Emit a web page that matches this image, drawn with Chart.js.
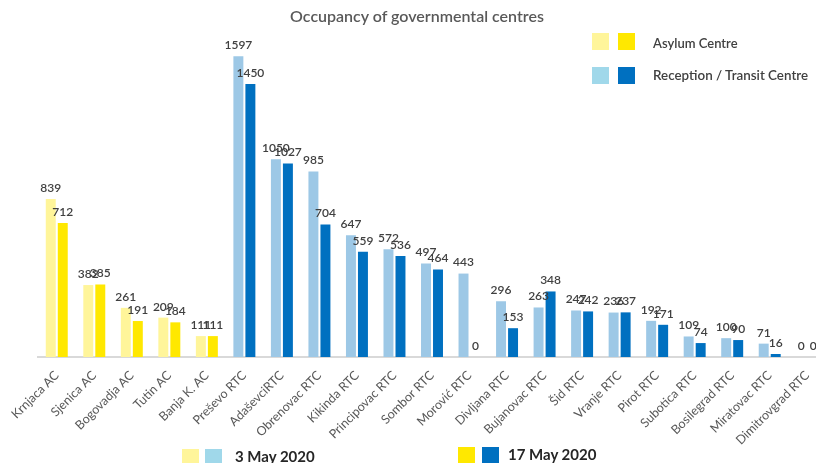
<!DOCTYPE html>
<html>
<head>
<meta charset="utf-8">
<script src="https://cdn.jsdelivr.net/npm/chart.js@4"></script>
<style>
  html, body { margin: 0; padding: 0; background: #fff; overflow: hidden; width: 816px; height: 463px; }
  #wrap { position: relative; width: 830px; height: 463px; }
  canvas { position: absolute; left: 0; top: 0; }
  .lg { position: absolute; font-family: Lato, sans-serif; color: #404040; white-space: nowrap; }
  .sw { position: absolute; width: 17px; height: 17px; }
</style>
</head>
<body>
<div id="wrap">
  <canvas id="c" width="830" height="463"></canvas>
  <div class="lg" style="left:217px;width:400px;text-align:center;top:6px;font-size:16px;font-weight:600;color:#595959;">Occupancy of governmental centres</div>
  <!-- top-right legend -->
  <div class="sw" style="left:592px;top:33px;background:#FFF59A"></div>
  <div class="sw" style="left:618px;top:33px;background:#FFE800"></div>
  <div class="lg" style="left:653px;top:35px;font-size:13px;font-weight:600;">Asylum Centre</div>
  <div class="sw" style="left:592px;top:67px;background:#A0D8EA"></div>
  <div class="sw" style="left:618px;top:67px;background:#0070C0"></div>
  <div class="lg" style="left:653px;top:67px;font-size:13.4px;font-weight:600;">Reception / Transit Centre</div>
  <!-- bottom legend -->
  <div class="sw" style="left:182px;top:449px;background:#FFF59A"></div>
  <div class="sw" style="left:205px;top:449px;background:#A0D8EA"></div>
  <div class="lg" style="left:235px;top:447px;font-size:15px;font-weight:700;color:#262626;">3 May 2020</div>
  <div class="sw" style="left:458px;top:447px;background:#FFE800"></div>
  <div class="sw" style="left:482px;top:447px;background:#0070C0"></div>
  <div class="lg" style="left:508px;top:445px;font-size:15px;font-weight:700;color:#262626;">17 May 2020</div>
</div>
<script>
const categories = ["Krnjaca AC","Sjenica AC","Bogovadja AC","Tutin AC","Banja K. AC","Preševo RTC","AdaševciRTC","Obrenovac RTC","Kikinda RTC","Principovac RTC","Sombor RTC","Morović RTC","Divljana RTC","Bujanovac RTC","Šid RTC","Vranje RTC","Pirot RTC","Subotica RTC","Bosilegrad RTC","Miratovac RTC","Dimitrovgrad RTC"];
const may3 =  [839, 382, 261, 209, 111, 1597, 1050, 985, 647, 572, 497, 443, 296, 263, 247, 236, 192, 109, 100, 71, 0];
const may17 = [712, 385, 191, 184, 111, 1450, 1027, 704, 559, 536, 464, 0, 153, 348, 242, 237, 171, 74, 90, 16, 0];
const centreType = ["AC","AC","AC","AC","AC","RTC","RTC","RTC","RTC","RTC","RTC","RTC","RTC","RTC","RTC","RTC","RTC","RTC","RTC","RTC","RTC"];

const colLight = { AC: "#FFF59A", RTC: "#9DC8E6" };
const colDark  = { AC: "#FFE800", RTC: "#0070C0" };

const valueLabels = {
  id: "valueLabels",
  afterDatasetsDraw(chart) {
    const ctx = chart.ctx;
    ctx.save();
    ctx.font = "600 12px Lato";
    ctx.fillStyle = "#404040";
    ctx.textAlign = "center";
    ctx.textBaseline = "bottom";
    chart.data.datasets.forEach((ds, di) => {
      const meta = chart.getDatasetMeta(di);
      meta.data.forEach((bar, i) => {
        ctx.fillText(String(ds.data[i]), bar.x, bar.y - 5);
      });
    });
    ctx.restore();
  }
};

new Chart(document.getElementById("c"), {
  type: "bar",
  data: {
    labels: categories,
    datasets: [
      { label: "3 May 2020", data: may3, backgroundColor: centreType.map(t => colLight[t]), borderWidth: 0,
        categoryPercentage: 0.64, barPercentage: 0.83 },
      { label: "17 May 2020", data: may17, backgroundColor: centreType.map(t => colDark[t]), borderWidth: 0,
        categoryPercentage: 0.64, barPercentage: 0.83 }
    ]
  },
  options: {
    responsive: false,
    animation: false,
    layout: { padding: { left: 38, right: 4, top: 18, bottom: 0 } },
    plugins: {
      legend: { display: false },
      tooltip: { enabled: false },
      title: { display: false }
    },
    scales: {
      x: {
        grid: { display: false },
        border: { color: "#D9D9D9", width: 2 },
        ticks: {
          color: "#595959",
          font: { family: "Lato", size: 12.5 },
          minRotation: 45, maxRotation: 45,
          autoSkip: false
        },
        afterFit(scale) { scale.height = 106; }
      },
      y: {
        display: false,
        min: 0, max: 1800
      }
    }
  },
  plugins: [valueLabels]
});
</script>
</body>
</html>
